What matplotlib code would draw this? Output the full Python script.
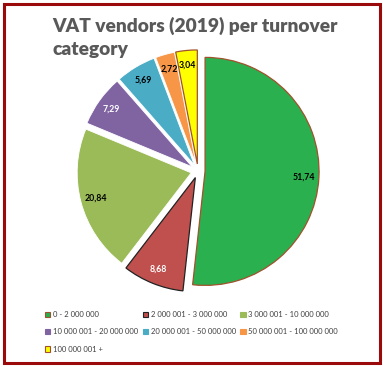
import matplotlib
matplotlib.use("Agg")
import matplotlib.pyplot as plt
from matplotlib.patches import Rectangle, Patch

categorie = ["0 - 2 000 000", "2 000 001 - 3 000 000", "3 000 001 - 10 000 000",
             "10 000 001 - 20 000 000", "20 000 001 - 50 000 000",
             "50 000 001 - 100 000 000", "100 000 001 +"]
valori = [51.74, 8.68, 20.84, 7.29, 5.69, 2.72, 3.04]
colori = ["#2BB04F", "#C0504D", "#9BBB59", "#8064A2", "#4BACC6", "#F79646", "#FFFF00"]
bordi = ["#A0522D", "#222222", "none", "none", "none", "none", "#A0522D"]
col_testo = ["black", "white", "black", "white", "black", "black", "black"]

plt.rcParams['font.family'] = ['Lato', 'DejaVu Sans']

W, H = 383, 367
fig = plt.figure(figsize=(W / 100, H / 100), dpi=100)
fig.patch.set_facecolor('white')

# cornice rossa scura
fig.patches.append(Rectangle((3.5 / W, 1 - 362.5 / H), 376.5 / W, 358.5 / H,
                             transform=fig.transFigure, fill=False,
                             edgecolor="#9B0A0A", lw=2.2))

# pie: centro ~(198,171) px, raggio ~114 px
cx, cy, r, half = 198, 171, 114, 150
ax = fig.add_axes([(cx - half) / W, (H - cy - half) / H, 2 * half / W, 2 * half / H])
wedges, _, autotexts = ax.pie(valori, colors=colori, startangle=90, counterclock=False,
                              explode=[0.062] * len(valori), radius=1.0,
                              autopct="%1.2f", pctdistance=0.87,
                              wedgeprops=dict(linewidth=0.9))
for w, b in zip(wedges, bordi):
    if b == "none":
        w.set_edgecolor("white")
        w.set_linewidth(0.6)
    else:
        w.set_edgecolor(b)
for t, v, c in zip(autotexts, valori, col_testo):
    t.set_text("{:.2f}".format(v).replace(".", ","))
    t.set_color(c)
    t.set_fontsize(6.3)
    t.set_fontweight("bold")
lim = half / r
ax.set_xlim(-lim, lim)
ax.set_ylim(-lim, lim)
ax.set_aspect("equal")
ax.axis("off")

fig.text(52 / W, 1 - 17 / H, "VAT vendors (2019) per turnover\ncategory",
         fontsize=13.8, fontweight="heavy", color="#595959",
         ha="left", va="top", linespacing=1.4)

handles = [Patch(facecolor=c, edgecolor=(b if b != "none" else c), lw=0.8)
           for c, b in zip(colori, bordi)]
# legenda riempita per righe (matplotlib riempie per colonne)
ordine = [0, 3, 6, 1, 4, 2, 5]
fig.legend([handles[i] for i in ordine], [categorie[i] for i in ordine],
           loc="upper left", bbox_to_anchor=(45 / W, 1 - 311 / H), ncol=3,
           frameon=False, fontsize=5.5, handlelength=0.7, handleheight=0.7,
           handletextpad=0.35, columnspacing=0.6, labelspacing=1.35,
           borderaxespad=0, borderpad=0, labelcolor="#404040")

fig.savefig("out.png", dpi=100)
